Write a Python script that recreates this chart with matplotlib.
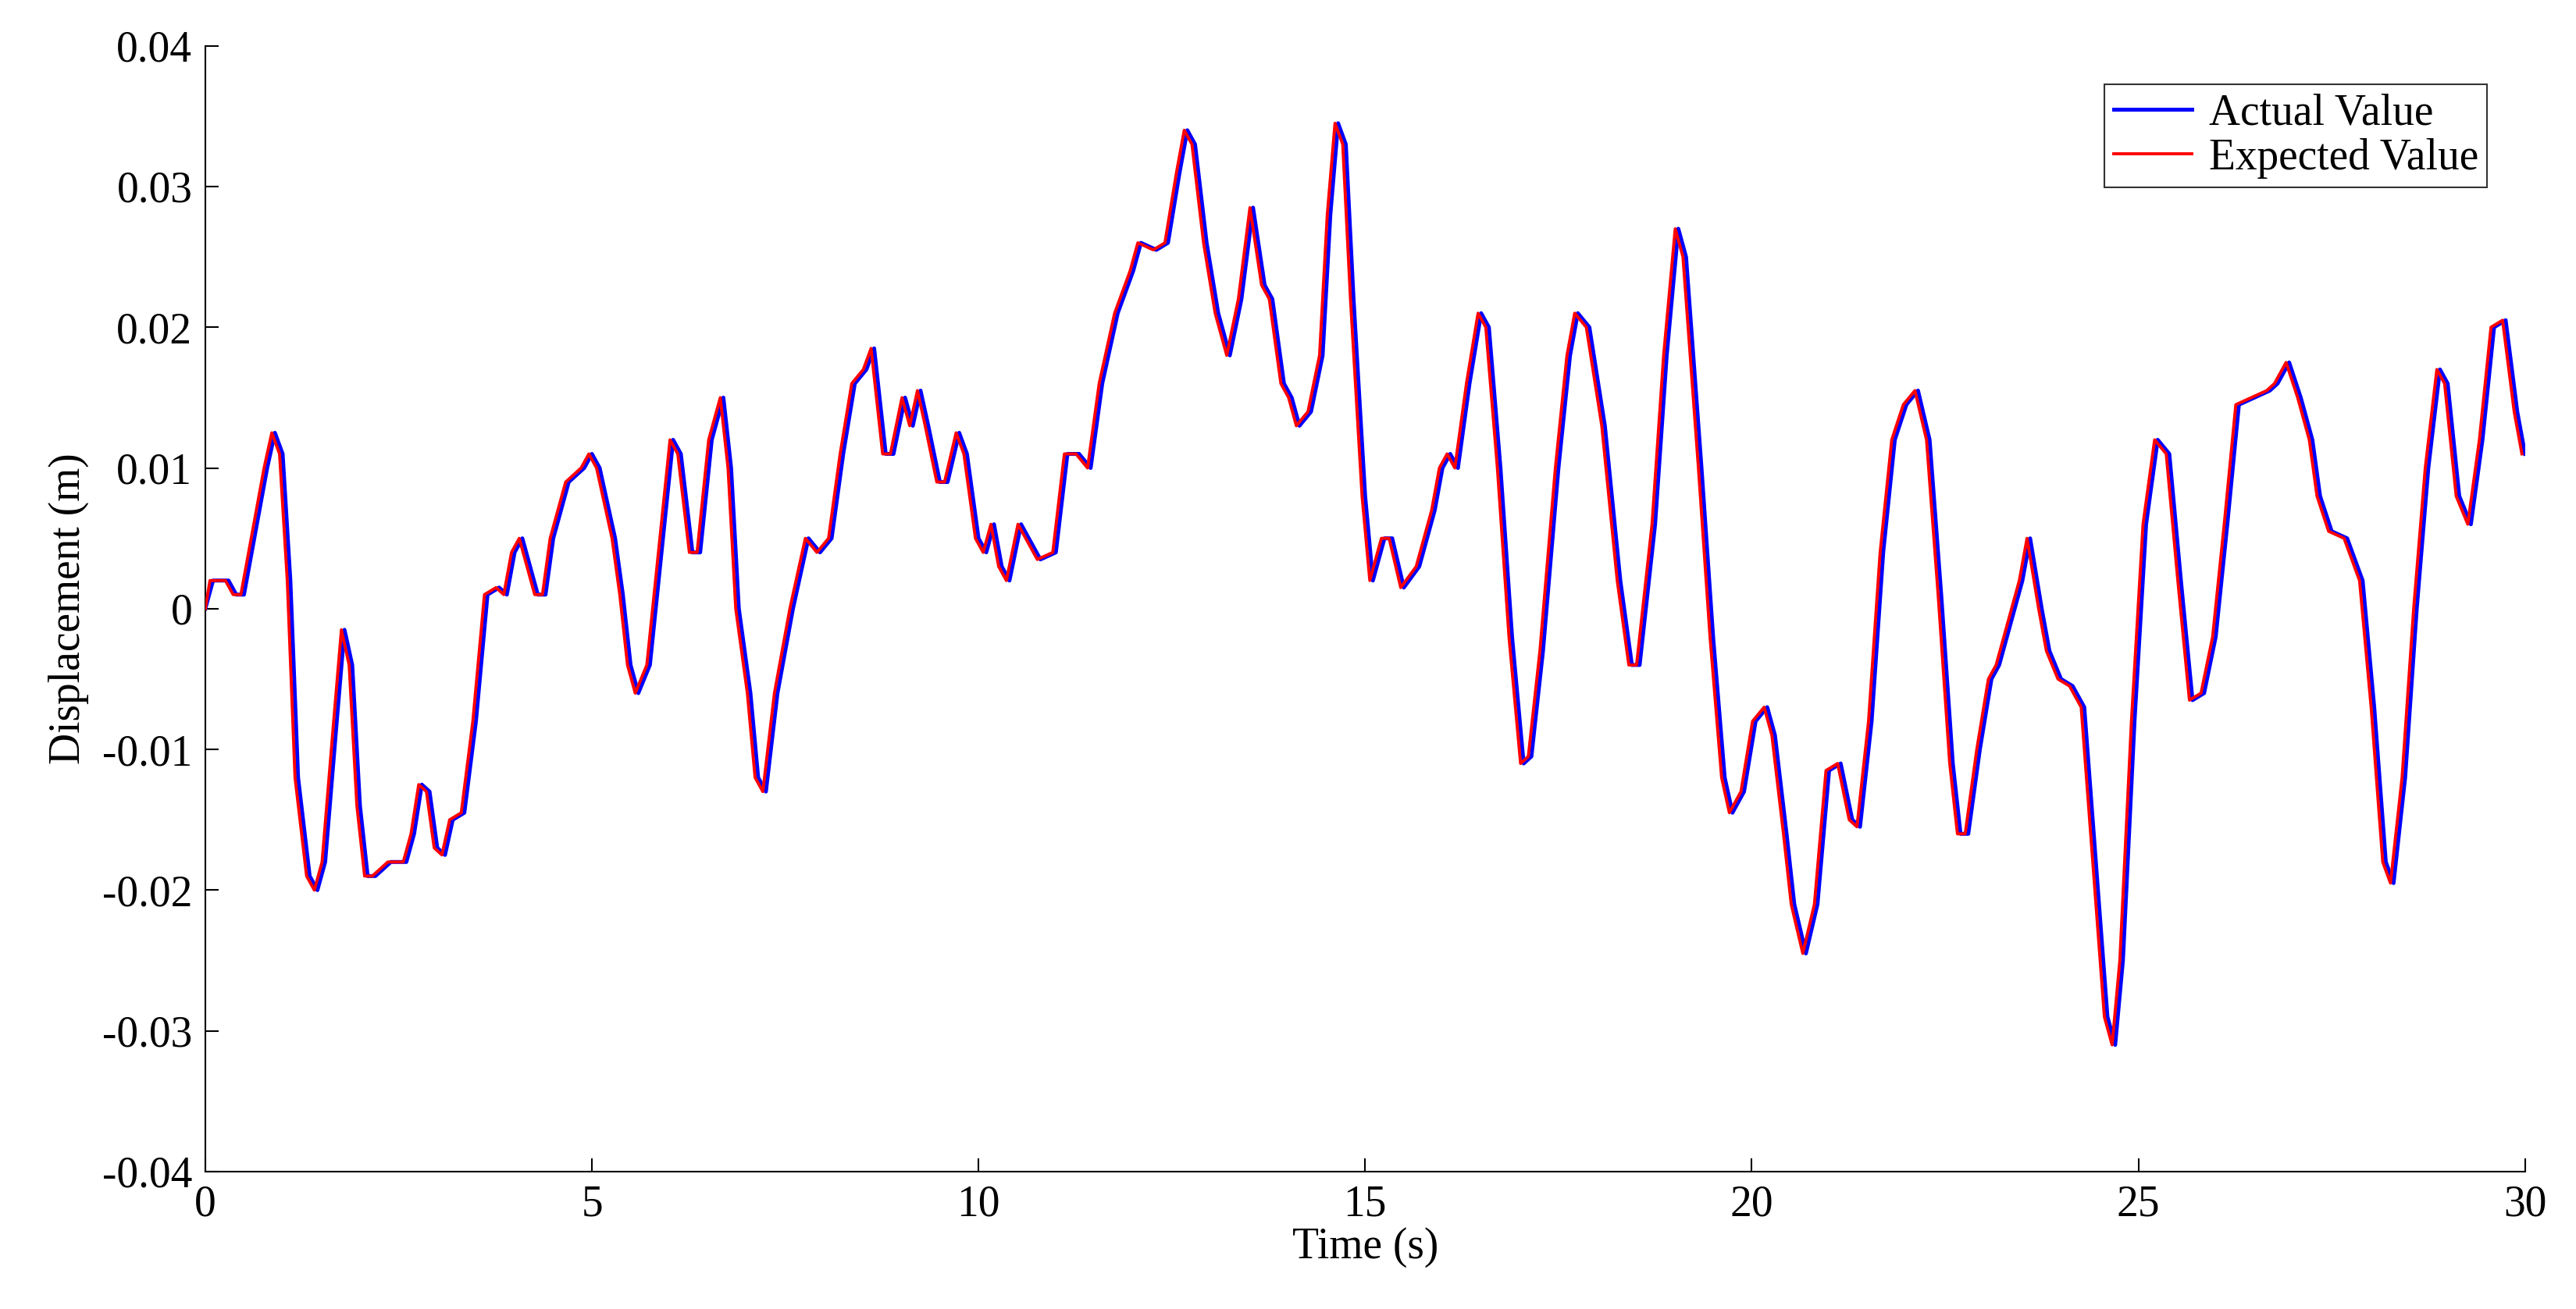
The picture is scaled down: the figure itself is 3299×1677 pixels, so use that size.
import matplotlib
matplotlib.use("Agg")
import matplotlib.pyplot as plt
import numpy as np

time_s = [0,0.1,0.3,0.4,0.5,0.6,0.8,0.9,1.0,1.1,1.2,1.35,1.45,1.55,1.7,1.8,1.9,2.0,2.1,2.2,2.4,2.6,2.7,2.8,2.9,3.0,3.1,3.2,3.35,3.5,3.65,3.8,3.9,4.0,4.1,4.2,4.3,4.4,4.5,4.7,4.8,4.9,5.0,5.1,5.3,5.4,5.5,5.6,5.75,5.9,6.05,6.15,6.3,6.4,6.55,6.7,6.8,6.9,7.05,7.15,7.25,7.4,7.6,7.8,7.95,8.1,8.25,8.4,8.55,8.65,8.8,8.9,9.05,9.15,9.25,9.35,9.5,9.6,9.75,9.85,10.0,10.1,10.2,10.3,10.4,10.55,10.65,10.8,11.0,11.15,11.3,11.45,11.6,11.8,12.0,12.1,12.3,12.45,12.6,12.7,12.8,12.95,13.1,13.25,13.4,13.55,13.7,13.8,13.95,14.05,14.15,14.3,14.45,14.55,14.65,14.75,14.85,15.0,15.1,15.25,15.35,15.5,15.7,15.9,16.0,16.1,16.2,16.35,16.5,16.6,16.75,16.9,17.05,17.15,17.3,17.5,17.65,17.75,17.9,18.1,18.3,18.45,18.55,18.75,18.9,19.05,19.15,19.35,19.5,19.65,19.75,19.9,20.05,20.2,20.3,20.45,20.55,20.7,20.85,21.0,21.15,21.3,21.4,21.55,21.7,21.85,22.0,22.15,22.3,22.45,22.6,22.7,22.8,22.95,23.1,23.2,23.35,23.5,23.6,23.75,23.85,24.0,24.15,24.3,24.45,24.6,24.7,24.8,24.95,25.1,25.25,25.4,25.55,25.7,25.85,26.0,26.15,26.3,26.5,26.7,26.8,26.95,27.1,27.25,27.35,27.5,27.7,27.9,28.05,28.2,28.3,28.45,28.6,28.75,28.9,29.0,29.15,29.3,29.45,29.6,29.75,29.9,30.0]
actual_value = [0,0.002,0.002,0.001,0.001,0.004,0.010,0.0125,0.011,0.002,-0.012,-0.019,-0.020,-0.018,-0.008,-0.0015,-0.004,-0.014,-0.019,-0.019,-0.018,-0.018,-0.016,-0.0125,-0.013,-0.017,-0.0175,-0.015,-0.0145,-0.008,0.001,0.0015,0.001,0.004,0.005,0.003,0.001,0.001,0.005,0.009,0.0095,0.010,0.011,0.010,0.005,0.001,-0.004,-0.006,-0.004,0.004,0.012,0.011,0.004,0.004,0.012,0.015,0.010,0.0,-0.006,-0.012,-0.013,-0.006,0.0,0.005,0.004,0.005,0.011,0.016,0.017,0.0185,0.011,0.011,0.015,0.013,0.0155,0.013,0.009,0.009,0.0125,0.011,0.005,0.004,0.006,0.003,0.002,0.006,0.005,0.0035,0.004,0.011,0.011,0.010,0.016,0.021,0.024,0.026,0.0255,0.026,0.031,0.034,0.033,0.026,0.021,0.018,0.022,0.0285,0.023,0.022,0.016,0.015,0.013,0.014,0.018,0.028,0.0345,0.033,0.022,0.008,0.002,0.005,0.005,0.0015,0.003,0.007,0.010,0.011,0.010,0.016,0.021,0.020,0.010,-0.002,-0.011,-0.0105,-0.003,0.010,0.018,0.021,0.020,0.013,0.002,-0.004,-0.004,0.006,0.018,0.027,0.025,0.010,-0.002,-0.012,-0.0145,-0.013,-0.008,-0.007,-0.009,-0.016,-0.021,-0.0245,-0.021,-0.0115,-0.011,-0.015,-0.0155,-0.008,0.004,0.012,0.0145,0.0155,0.012,0.001,-0.011,-0.016,-0.016,-0.010,-0.005,-0.004,-0.001,0.002,0.005,0.0,-0.003,-0.005,-0.0055,-0.007,-0.018,-0.029,-0.031,-0.025,-0.008,0.006,0.012,0.011,0.002,-0.0065,-0.006,-0.002,0.006,0.0145,0.015,0.0155,0.016,0.0175,0.015,0.012,0.008,0.0055,0.005,0.002,-0.007,-0.018,-0.0195,-0.012,0.0,0.010,0.017,0.016,0.008,0.006,0.012,0.020,0.0205,0.014,0.011]
expected_lead_s = 0.04
x_ticks = [0,5,10,15,20,25,30]
y_ticks = [-0.04,-0.03,-0.02,-0.01,0,0.01,0.02,0.03,0.04]
y_tick_labels = ["-0.04","-0.03","-0.02","-0.01","0","0.01","0.02","0.03","0.04"]

plt.rcParams['font.family'] = ['Liberation Serif', 'DejaVu Serif']
fig = plt.figure(figsize=(32.99, 16.77), dpi=100)
ax = fig.add_axes([0.0797, 0.105, 0.9005, 0.86])
t = np.array(time_s)
ax.plot(t, actual_value, color='#0000ff', lw=3.6, label='Actual Value', zorder=2)
ax.plot(np.clip(t - expected_lead_s, 0, 30), actual_value, color='#ff0000', lw=2.8,
        label='Expected Value', zorder=3)
ax.set_xlim(0, 30)
ax.set_ylim(-0.04, 0.04)
ax.set_xticks(x_ticks)
ax.set_yticks(y_ticks)
ax.set_yticklabels(y_tick_labels)
ax.tick_params(labelsize=40, direction='in', length=12, width=1.5, top=False, right=False, pad=12)
for s in ['top', 'right']:
    ax.spines[s].set_visible(False)
for s in ['left', 'bottom']:
    ax.spines[s].set_linewidth(1.5)
ax.set_xlabel('Time (s)', fontsize=40, labelpad=2)
ax.set_ylabel('Displacement (m)', fontsize=40, labelpad=12)
leg = ax.legend(loc='upper right', fontsize=40, fancybox=False, edgecolor='black',
                handlelength=1.8, handletextpad=0.4, borderpad=0.2, labelspacing=0.1,
                bbox_to_anchor=(0.993, 0.985))
leg.get_frame().set_linewidth(1.5)
fig.savefig('out.png', dpi=100, facecolor='white')
